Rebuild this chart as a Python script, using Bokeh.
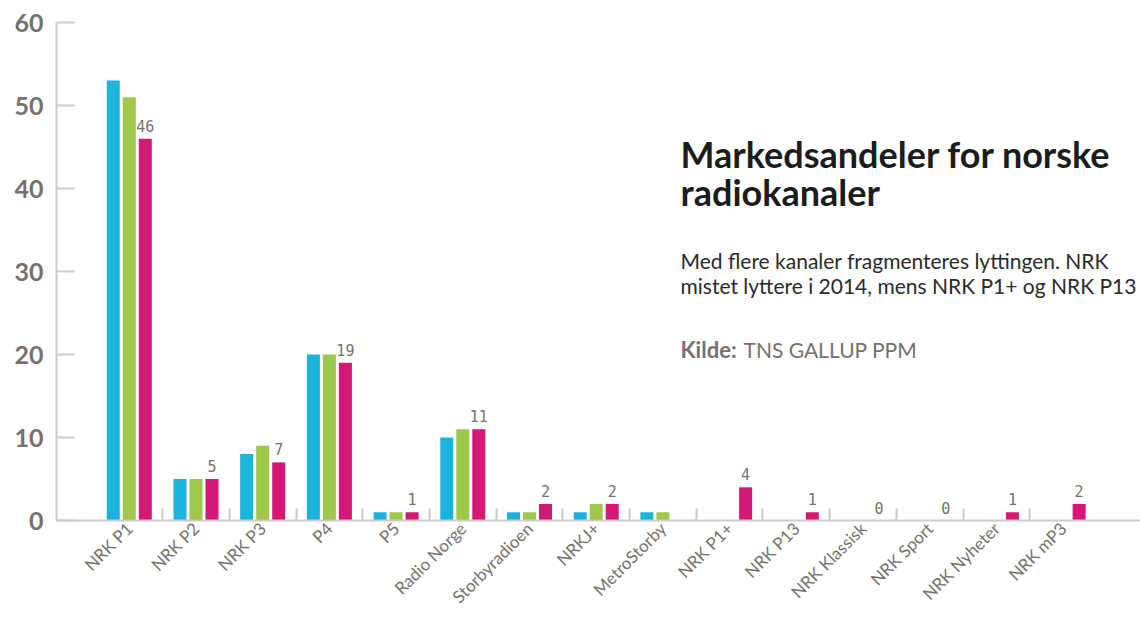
import math
from bokeh.plotting import figure
from bokeh.models import ColumnDataSource, FixedTicker, Range1d, Label, Grid
from bokeh.core.properties import value
from bokeh.embed import file_html
from bokeh.resources import INLINE

# ---------------- data ----------------
channels = ["NRK P1", "NRK P2", "NRK P3", "P4", "P5", "Radio Norge",
            "Storbyradioen", "NRKJ+", "MetroStorby", "NRK P1+", "NRK P13",
            "NRK Klassisk", "NRK Sport", "NRK Nyheter", "NRK mP3"]
years = ["2012", "2013", "2014"]
share_2012 = [53, 5, 8, 20, 1, 10, 1, 1, 1, None, None, None, None, None, None]
share_2013 = [51, 5, 9, 20, 1, 11, 1, 2, 1, None, None, None, None, None, None]
share_2014 = [46, 5, 7, 19, 1, 11, 2, 2, None, 4, 1, 0, 0, 1, 2]
y_ticks = [0, 10, 20, 30, 40, 50, 60]

title_lines = ["Markedsandeler for norske", "radiokanaler"]
subtitle_lines = ["Med flere kanaler fragmenteres lyttingen. NRK",
                  "mistet lyttere i 2014, mens NRK P1+ og NRK P13"]
source_bold = "Kilde:"
source_text = "TNS GALLUP PPM"

# ---------------- style ----------------
colors = ["#1bb4dc", "#9ec74c", "#d51876"]
offsets = [-0.24, 0.0, 0.24]
bar_w = 0.195
gray = "#77716d"
axis_gray = "#cfcbc7"
FONT = "Lato"

p = figure(width=1140, height=618,
           x_range=Range1d(-1.091, 15.16), y_range=Range1d(0, 60),
           output_backend="svg", toolbar_location=None,
           min_border_left=56, min_border_right=0,
           min_border_top=22, min_border_bottom=98)
p.outline_line_color = None
p.background_fill_color = "white"
p.border_fill_color = "white"
p.xgrid.visible = False
p.ygrid.visible = False

series = [share_2012, share_2013, share_2014]
for k, vals in enumerate(series):
    xs = [i + offsets[k] for i, v in enumerate(vals) if v is not None and v > 0]
    tops = [v for v in vals if v is not None and v > 0]
    src = ColumnDataSource(dict(x=xs, top=tops))
    p.vbar(x="x", top="top", bottom=0, width=bar_w, source=src,
           fill_color=colors[k], line_color=None, name=years[k])

# value labels for the latest year
lx = [i + offsets[2] for i, v in enumerate(share_2014) if v is not None]
ly = [v for v in share_2014 if v is not None]
lt = [str(v) for v in share_2014 if v is not None]
lsrc = ColumnDataSource(dict(x=lx, y=ly, t=lt))
p.text(x="x", y="y", text="t", source=lsrc, text_align="center",
       text_baseline="bottom", y_offset=-7,
       text_font=value("DejaVu Sans Mono"), text_font_size="15px",
       text_color=gray)

# category separators (between categories)
bounds = [i + 0.5 for i in range(len(channels) - 1)]
try:
    sep = Grid(dimension=0, ticker=FixedTicker(ticks=bounds),
               cross_bounds=(0, 1.45), grid_line_color=axis_gray,
               grid_line_width=2)
    p.add_layout(sep)
except Exception:
    ssrc = ColumnDataSource(dict(x=bounds, y0=[0] * len(bounds),
                                 y1=[1.45] * len(bounds)))
    p.segment(x0="x", y0="y0", x1="x", y1="y1", source=ssrc,
              line_color=axis_gray, line_width=2)

# x axis
xa = p.xaxis[0]
xa.ticker = FixedTicker(ticks=list(range(len(channels))))
xa.major_label_overrides = {i: c for i, c in enumerate(channels)}
xa.major_label_orientation = math.pi / 4
xa.major_tick_in = 0
xa.major_tick_out = 0
xa.minor_tick_in = 0
xa.minor_tick_out = 0
xa.axis_line_color = axis_gray
xa.axis_line_width = 2
xa.major_label_text_font = FONT
xa.major_label_text_font_size = "17px"
xa.major_label_text_color = gray
xa.major_label_standoff = 5

# y axis
ya = p.yaxis[0]
ya.ticker = FixedTicker(ticks=y_ticks)
ya.major_tick_in = 18
ya.major_tick_out = 0
ya.minor_tick_in = 0
ya.minor_tick_out = 0
ya.major_tick_line_color = axis_gray
ya.major_tick_line_width = 2
ya.axis_line_color = axis_gray
ya.axis_line_width = 2
ya.major_label_text_font = FONT
ya.major_label_text_font_style = "bold"
ya.major_label_text_font_size = "25px"
ya.major_label_text_color = gray
ya.major_label_standoff = 13

# texts (positions in data units)
tx = 8.264
for line, yy in zip(title_lines, [44.14, 39.52]):
    p.add_layout(Label(x=tx, y=yy, text=line, text_font=FONT,
                       text_font_style="bold", text_font_size="36px",
                       text_color="#1c1c1c", text_baseline="alphabetic"))
for line, yy in zip(subtitle_lines, [31.33, 28.35]):
    p.add_layout(Label(x=tx, y=yy, text=line, text_font=FONT,
                       text_font_size="21px", text_color="#2b2b2b",
                       text_baseline="alphabetic"))
p.add_layout(Label(x=tx, y=20.66, text=source_bold, text_font=FONT,
                   text_font_style="bold", text_font_size="22px",
                   text_color=gray, text_baseline="alphabetic"))
p.add_layout(Label(x=9.208, y=20.66, text=source_text, text_font=FONT,
                   text_font_size="21px", text_color=gray,
                   text_baseline="alphabetic"))

open("out.html", "w").write(file_html(p, INLINE))
